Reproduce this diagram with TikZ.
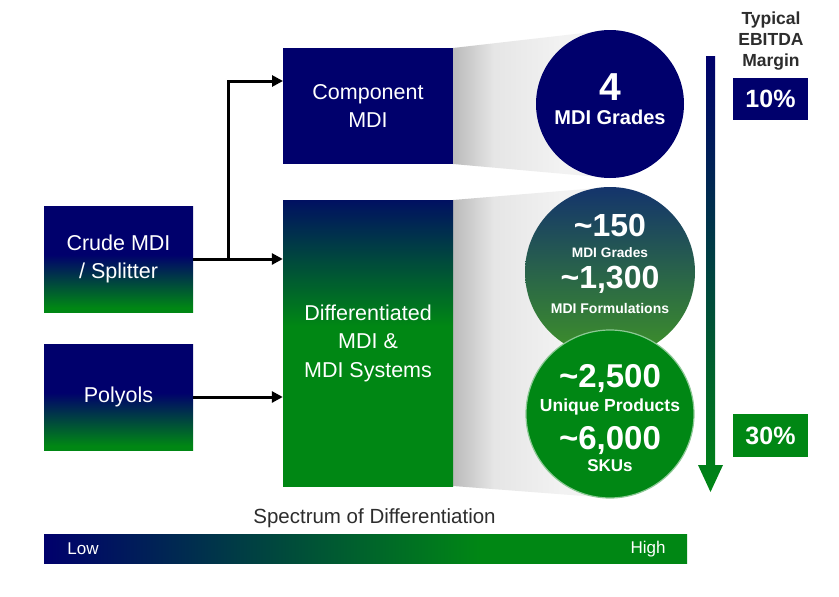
\documentclass[tikz,border=0pt]{standalone}
\usepackage{fontspec}
\setmainfont{Liberation Sans}
\usetikzlibrary{arrows.meta,calc}
\definecolor{mnavy}{RGB}{0,0,108}
\definecolor{mgreen}{RGB}{0,135,20}
\definecolor{tgray}{RGB}{45,45,45}
\colorlet{dnavy}{mnavy!88!mgreen}
\colorlet{fdark}{black!27}
\colorlet{fmid}{black!10}
\colorlet{flight}{black!5}
\pgfdeclareverticalshading{boxshade}{100bp}{color(0bp)=(mgreen); color(27bp)=(mgreen); color(52bp)=(mnavy); color(100bp)=(mnavy)}
\pgfdeclareverticalshading{diffshade}{100bp}{color(0bp)=(mgreen); color(53bp)=(mgreen); color(75bp)=(dnavy); color(100bp)=(dnavy)}
\pgfdeclarehorizontalshading{funnelshade}{100bp}{color(0bp)=(fdark); color(25bp)=(fdark); color(38bp)=(fmid); color(60bp)=(flight); color(100bp)=(flight)}
\pgfdeclarehorizontalshading{barshade}{100bp}{color(0bp)=(mnavy); color(25bp)=(mnavy); color(59bp)=(mgreen); color(100bp)=(mgreen)}
\begin{document}
\begin{tikzpicture}[x=1pt,y=-1pt,
  lbl/.style={text=white,font=\fontsize{21.5}{28.5}\selectfont,align=center},
  srcbox/.style={rectangle,minimum width=149pt,minimum height=106pt,inner sep=0pt,shading=boxshade,lbl},
  midbox/.style={rectangle,minimum width=170pt,inner sep=0pt,lbl},
  arr/.style={draw=black,line width=3pt,-{Triangle[length=11pt,width=11pt]}},
  bignum/.style={text=white,inner sep=0pt,anchor=base,font=\bfseries\fontsize{32}{32}\selectfont},
  smalltxt/.style={text=white,inner sep=0pt,anchor=base,font=\bfseries\fontsize{14}{14}\selectfont},
  midtxt/.style={text=white,inner sep=0pt,anchor=base,font=\bfseries\fontsize{17.5}{17.5}\selectfont},
  pctbox/.style={rectangle,minimum width=75pt,minimum height=42pt,inner sep=0pt,text=white,font=\bfseries\fontsize{25}{25}\selectfont}]
\useasboundingbox (0,0) rectangle (839,597);
\fill[white] (0,0) rectangle (839,597);
% funnels
\shade[shading=funnelshade] (453,48) -- (610,30) -- (610,178) -- (453,164) -- cycle;
\shade[shading=funnelshade] (453,200) -- (610,187) -- (610,498) -- (453,486) -- cycle;
% source boxes
\node[srcbox] (crude) at (118.5,259) {Crude MDI\\/ Splitter};
\node[srcbox] (poly) at (118.5,397) {Polyols};
% middle boxes
\node[midbox,minimum height=116pt,fill=mnavy] (comp) at (368,106) {Component\\MDI};
\node[midbox,minimum height=286pt,shading=diffshade] (diff) at (368,343) {Differentiated\\MDI \&\\MDI Systems};
% connectors
\coordinate (branch) at (228,259);
\coordinate (cin) at (283,81);
\draw[arr] (crude.east) -- (crude.east -| diff.west);
\draw[arr] (branch) |- (cin);
\draw[arr] (poly.east) -- (poly.east -| diff.west);
% circles
\node[circle,minimum size=148pt,inner sep=0pt,fill=mnavy] (c1) at (610,104) {};
\node[circle,minimum size=170pt,inner sep=0pt,top color={rgb,255:red,20;green,52;blue,108},bottom color={rgb,255:red,62;green,146;blue,40}] (c2) at (610,272) {};
\node[circle,minimum size=168pt,inner sep=0pt,fill=mgreen,draw=white!55!mgreen,line width=1.2pt] (c3) at (610,414) {};
\node[text=white,inner sep=0pt,anchor=base,font=\bfseries\fontsize{39}{39}\selectfont] (t4) at (610,100) {4};
\node[text=white,inner sep=0pt,anchor=base,font=\bfseries\fontsize{20}{20}\selectfont] (t4b) at (610,124) {MDI Grades};
\node[bignum] (t150) at (610,236.5) {\char`~150};
\node[smalltxt,font=\bfseries\fontsize{13.7}{13.7}\selectfont] (t150b) at (610,257) {MDI Grades};
\node[bignum] (t1300) at (610,288.5) {\char`~1,300};
\node[smalltxt] (t1300b) at (610,313) {MDI Formulations};
\node[bignum,font=\bfseries\fontsize{33}{33}\selectfont] (t2500) at (610,387) {\char`~2,500};
\node[midtxt] (t2500b) at (610,411) {Unique Products};
\node[bignum,font=\bfseries\fontsize{33}{33}\selectfont] (t6000) at (610,449) {\char`~6,000};
\node[midtxt,font=\bfseries\fontsize{17}{17}\selectfont] (t6000b) at (610,471) {SKUs};
% vertical arrow
\shade[top color=mnavy,bottom color=mgreen] (706,56) -- (715,56) -- (715,465) -- (723,465) -- (710.5,492) -- (698,465) -- (706,465) -- cycle;
% margin column
\node[align=center,text=tgray,font=\bfseries\fontsize{17.5}{21}\selectfont] (typ) at (771,41) {Typical\\EBITDA\\Margin};
\node[pctbox,fill=mnavy] (p10) at (770.5,99) {10\%};
\node[pctbox,fill=mgreen,minimum height=43pt] (p30) at (770.5,435.5) {30\%};
% spectrum
\node[text=tgray,font=\fontsize{20.5}{20.5}\selectfont] (spec) at (374.5,518) {Spectrum of Differentiation};
\node[rectangle,minimum width=643pt,minimum height=29pt,inner sep=0pt,shading=barshade] (bar) at (365.5,548.5) {};
\node[text=white,font=\fontsize{17}{17}\selectfont] (low) at (83,549) {Low};
\node[text=white,font=\fontsize{17}{17}\selectfont] (high) at (648,549) {High};
\end{tikzpicture}
\end{document}
